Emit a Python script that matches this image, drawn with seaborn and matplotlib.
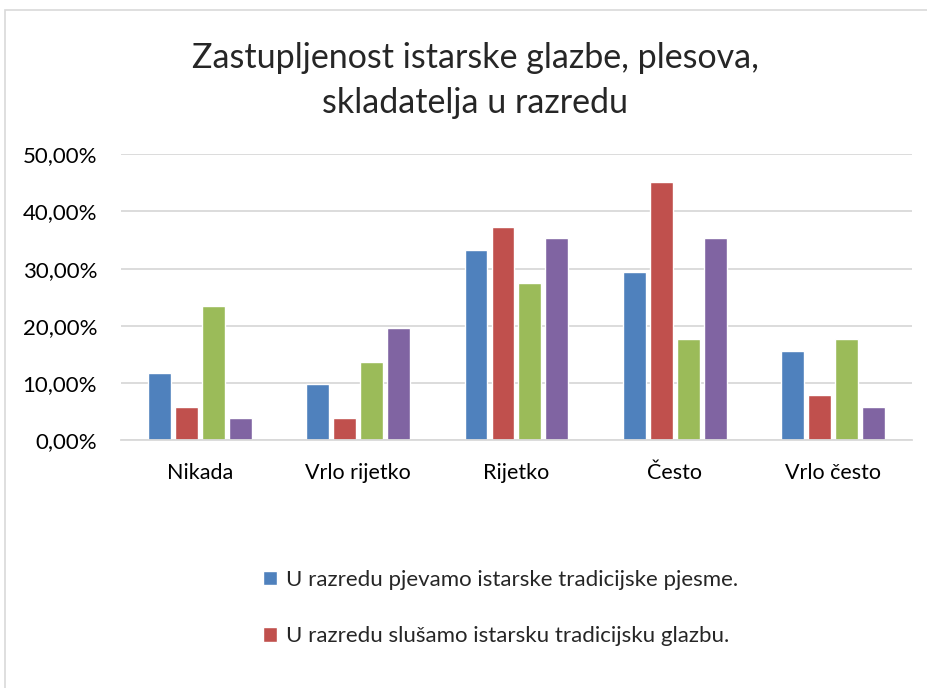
import pandas as pd
import seaborn as sns
import matplotlib.pyplot as plt
import matplotlib.ticker as ticker
from matplotlib.patches import Rectangle, Patch

categories = ['Nikada', 'Vrlo rijetko', 'Rijetko', 'Često', 'Vrlo često']
series_names = [
    'U razredu pjevamo istarske tradicijske pjesme.',
    'U razredu slušamo istarsku tradicijsku glazbu.',
    'U razredu plešemo istarske tradicijske plesove.',
    'U razredu upoznajemo istarske skladatelje.',
]
pjevamo = [11.76, 9.80, 33.33, 29.41, 15.69]
slusamo = [5.88, 3.92, 37.25, 45.10, 7.84]
plesemo = [23.53, 13.73, 27.45, 17.65, 17.65]
skladatelji = [3.92, 19.61, 35.29, 35.29, 5.88]
colors = ['#4F81BD', '#C0504D', '#9BBB59', '#8064A2']

df = pd.DataFrame({
    'Odgovor': categories * 4,
    'Tvrdnja': [n for n in series_names for _ in categories],
    'Postotak': pjevamo + slusamo + plesemo + skladatelji,
})

sns.set_style('white')
plt.rcParams['font.family'] = ['Lato', 'DejaVu Sans']

fig = plt.figure(figsize=(9.28, 6.88), dpi=100)
ax = fig.add_axes([0.130, 0.360, 0.853, 0.416])

sns.barplot(
    data=df, x='Odgovor', y='Postotak', hue='Tvrdnja',
    palette=colors, width=0.68, gap=0.15, saturation=1,
    order=categories, hue_order=series_names, ax=ax, legend=False,
)

ax.set_ylim(0, 50)
ax.set_xlim(-0.5, 4.5)
ax.yaxis.set_major_locator(ticker.MultipleLocator(10))
ax.yaxis.set_major_formatter(ticker.FuncFormatter(lambda v, p: f'{v:.2f}'.replace('.', ',') + '%'))
ax.grid(axis='y', color='#D9D9D9', linewidth=1.3)
ax.set_axisbelow(True)
for s in ['top', 'right', 'left']:
    ax.spines[s].set_visible(False)
ax.spines['bottom'].set_color('#D9D9D9')
ax.spines['bottom'].set_linewidth(1.3)
ax.tick_params(axis='y', length=0, labelsize=16, colors='#000000', pad=17)
ax.tick_params(axis='x', length=0, labelsize=15.5, colors='#000000', pad=16)
ax.set_xlabel('')
ax.set_ylabel('')

fig.text(0.512, 0.915, 'Zastupljenost istarske glazbe, plesova,', ha='center', va='center', fontsize=24.5)
fig.text(0.512, 0.851, 'skladatelja u razredu', ha='center', va='center', fontsize=24.5)

handles = [Patch(facecolor=colors[i], label=series_names[i]) for i in range(2)]
fig.legend(handles=handles, loc='upper left', bbox_to_anchor=(0.274, 0.185),
           frameon=False, fontsize=16, labelspacing=1.65, handlelength=0.62,
           handleheight=0.62, handletextpad=0.4, borderaxespad=0)

fig.patches.append(Rectangle((5 / 928, -0.05), 1.0, 1 - 10 / 688 + 0.05, transform=fig.transFigure,
                             fill=False, edgecolor='#D9D9D9', linewidth=1.2))

fig.savefig('out.png', dpi=100)
